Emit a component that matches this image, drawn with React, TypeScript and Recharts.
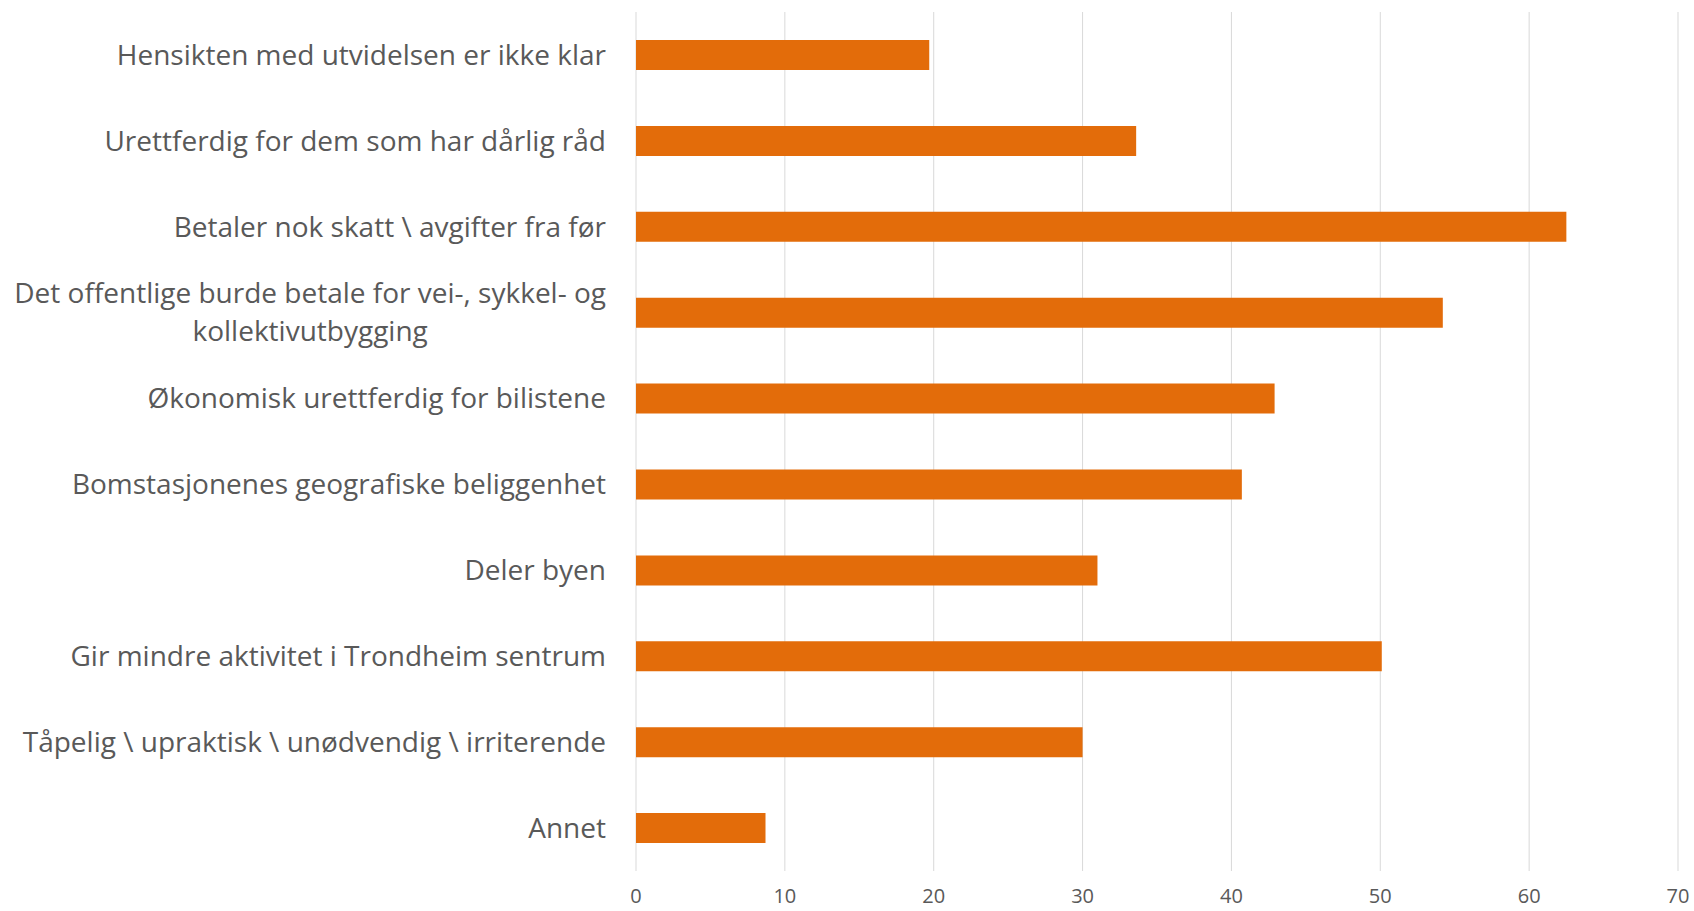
import React from "react";
import {BarChart, Bar, XAxis, YAxis, CartesianGrid} from "recharts";

const categories = [
    "Hensikten med utvidelsen er ikke klar",
    "Urettferdig for dem som har dårlig råd",
    "Betaler nok skatt \\ avgifter fra før",
    "Det offentlige burde betale for vei-, sykkel- og\nkollektivutbygging",
    "Økonomisk urettferdig for bilistene",
    "Bomstasjonenes geografiske beliggenhet",
    "Deler byen",
    "Gir mindre aktivitet i Trondheim sentrum",
    "Tåpelig \\ upraktisk \\ unødvendig \\ irriterende",
    "Annet",
];
const values = [19.7, 33.6, 62.5, 54.2, 42.9, 40.7, 31.0, 50.1, 30.0, 8.7];
const xTicks = [0, 10, 20, 30, 40, 50, 60, 70];

const data = categories.map((name, i) => ({name, value: values[i]}));

const FONT = "'Open Sans', sans-serif";
const LABEL_SIZE = 28;
const TEXT_COLOR = "#595959";

const measure = (text: string) => {
    const ctx = document.createElement("canvas").getContext("2d");
    if (!ctx) return text.length * LABEL_SIZE * 0.5;
    ctx.font = `${LABEL_SIZE}px ${FONT}`;
    return ctx.measureText(text).width;
};

const CategoryTick = (props: any) => {
    const {x, y, payload} = props;
    const lines = String(payload.value).split("\n");
    if (lines.length === 1) {
        return (
            <text x={x} y={y} dy="0.35em" textAnchor="end" fill={TEXT_COLOR}
                  fontFamily={FONT} fontSize={LABEL_SIZE}>{lines[0]}</text>
        );
    }
    // wrapped label: block is right-aligned, lines centered inside it
    const w = Math.max(...lines.map(measure));
    const cx = x - w / 2;
    const lineH = 38;
    const start = -(lines.length - 1) * lineH / 2;
    return (
        <text textAnchor="middle" fill={TEXT_COLOR} fontFamily={FONT} fontSize={LABEL_SIZE}>
            {lines.map((l, i) => (
                <tspan key={i} x={cx} y={y + start + i * lineH} dy="0.35em">{l}</tspan>
            ))}
        </text>
    );
};

const App = () => {
    return (
        <div style={{position: "absolute", left: 0, top: 0, background: "#fff"}}>
            <BarChart width={1694} height={911} data={data} layout="vertical"
                      margin={{top: 12, right: 16, bottom: 0, left: 0}}>
                <CartesianGrid stroke="#d9d9d9" horizontal={false}/>
                <XAxis type="number" domain={[0, 70]} ticks={xTicks} axisLine={false} tickLine={false}
                       height={40} tickMargin={12}
                       tick={{fill: TEXT_COLOR, fontSize: 20, fontFamily: FONT}}/>
                <YAxis type="category" dataKey="name" width={636} axisLine={false} tickLine={false}
                       tickSize={0} tickMargin={30} interval={0} tick={<CategoryTick/>}/>
                <Bar dataKey="value" fill="#e36c0a" barSize={30} isAnimationActive={false}/>
            </BarChart>
        </div>
    );
};

export default App;
